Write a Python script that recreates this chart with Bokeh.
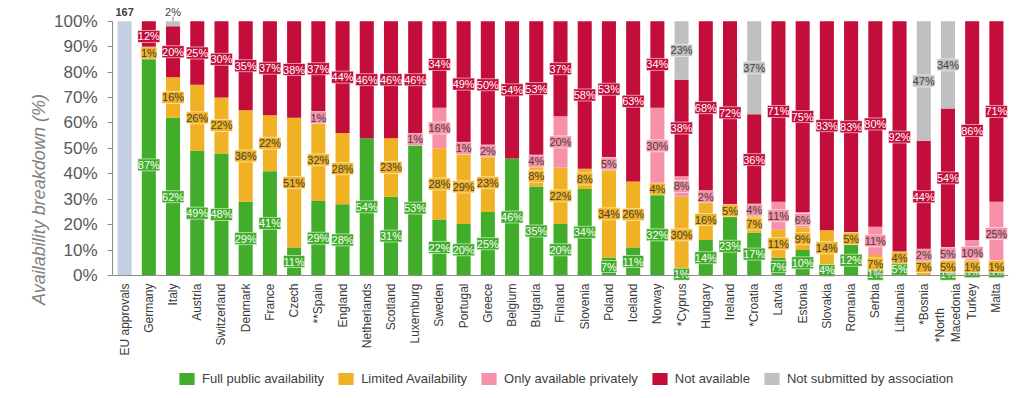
import math
from bokeh.plotting import figure
from bokeh.models import (ColumnDataSource, FactorRange, Range1d, LabelSet, Legend,
                          LegendItem, FixedTicker, Span, Title)
from bokeh.embed import file_html
from bokeh.resources import INLINE
from bokeh.core.properties import value

# ---------------- data ----------------
categories = ["EU approvals", "Germany", "Italy", "Austria", "Switzerland", "Denmark",
              "France", "Czech", "**Spain", "England", "Netherlands", "Scotland",
              "Luxemburg", "Sweden", "Portugal", "Greece", "Belgium", "Bulgaria",
              "Finland", "Slovenia", "Poland", "Iceland", "Norway", "*Cyprus",
              "Hungary", "Ireland", "*Croatia", "Latvia", "Estonia", "Slovakia",
              "Romania", "Serbia", "Lithuania", "*Bosnia", "*North\nMacedonia",
              "Turkey", "Malta"]

full_public   = [0, 87, 62, 49, 48, 29, 41, 11, 29, 28, 54, 31, 53, 22, 20, 25, 46, 35,
                 20, 34, 7, 11, 32, 1, 14, 23, 17, 7, 10, 4, 12, 1, 5, 0, 1, 3, 3]
limited       = [0, 1, 16, 26, 22, 36, 22, 51, 32, 28, 0, 23, 0, 28, 29, 23, 0, 8,
                 22, 8, 34, 26, 4, 30, 16, 5, 7, 11, 9, 14, 5, 7, 4, 7, 5, 1, 1]
private_only  = [0, 0, 0, 0, 0, 0, 0, 0, 1, 0, 0, 0, 1, 16, 1, 2, 0, 4,
                 20, 0, 5, 0, 30, 8, 2, 0, 4, 11, 6, 0, 0, 11, 0, 2, 5, 10, 25]
not_available = [0, 12, 20, 25, 30, 35, 37, 38, 37, 44, 46, 46, 46, 34, 49, 50, 54, 53,
                 37, 58, 53, 63, 34, 38, 68, 72, 36, 71, 75, 83, 83, 80, 92, 44, 54, 86, 71]
not_submitted = [0, 0, 2, 0, 0, 0, 0, 0, 0, 0, 0, 0, 0, 0, 0, 0, 0, 0,
                 0, 0, 0, 0, 0, 23, 0, 0, 37, 0, 0, 0, 0, 0, 0, 47, 34, 0, 0]
eu_share = [100]          # EU approvals bar spans the full height
eu_count = ["167"]        # number of EU approvals

y_ticks = list(range(0, 101, 10))
y_tick_labels = [f"{t}%" for t in y_ticks]

series_names = ["Full public availability", "Limited Availability",
                "Only available privately", "Not available", "Not submitted by association"]
series_vals = [full_public, limited, private_only, not_available, not_submitted]
colors = ["#41ad2a", "#f0b124", "#f691a9", "#c30d3b", "#c0c0c0"]
text_colors = ["white", "#404040", "#404040", "white", "#404040"]
eu_color = "#c5d0e2"

FONT = "Liberation Sans"
PX = 2.543  # pixels per percentage point on the y scale

# normalise each bar to 100 %
keys = ["g", "o", "p", "r", "s"]
data = {"x": categories}
totals = [sum(v[i] for v in series_vals) for i in range(len(categories))]
for k, vals in zip(keys, series_vals):
    data[k] = [(vals[i] / totals[i] * 100) if totals[i] else 0 for i in range(len(categories))]
src = ColumnDataSource(data)

FRAME_H = 394
y_top = 107.35
p = figure(x_range=FactorRange(factors=categories),
           y_range=Range1d(y_top - FRAME_H / PX, y_top),
           frame_width=896, frame_height=FRAME_H,
           min_border_left=112, min_border_right=8, min_border_top=2, min_border_bottom=0,
           output_backend="svg", toolbar_location=None)

renderers = p.vbar_stack(keys, x="x", width=0.58, source=src,
                         fill_color=colors, line_color=None)

p.vbar(x=categories[:1], top=eu_share, width=0.58, fill_color=eu_color, line_color=None)

# segment labels
for si, (k, vals) in enumerate(zip(keys, series_vals)):
    lx, ly, lt = [], [], []
    ax, ay, at = [], [], []
    for i, c in enumerate(categories):
        if vals[i] <= 0:
            continue
        base = sum(data[kk][i] for kk in keys[:si])
        if k == "s" and vals[i] < 5:
            ax.append(c); ay.append(103.6); at.append(f"{vals[i]}%")
            continue
        lx.append(c); ly.append(base + data[k][i] / 2); lt.append(f"{vals[i]}%")
    ls = LabelSet(x="x", y="y", text="t",
                  source=ColumnDataSource(dict(x=lx, y=ly, t=lt)),
                  text_align="center", text_baseline="middle",
                  text_font=value(FONT), text_font_size="11px",
                  text_color=text_colors[si],
                  background_fill_color=colors[si],
                  border_line_color="white", border_line_alpha=0.55)
    p.add_layout(ls)
    if ax:
        p.segment(x0=ax, y0=[100] * len(ax), x1=ax, y1=[101.8] * len(ax),
                  line_color="#808080", line_width=1)
        p.add_layout(LabelSet(x="x", y="y", text="t",
                              source=ColumnDataSource(dict(x=ax, y=ay, t=at)),
                              text_align="center", text_baseline="middle",
                              text_font=value(FONT), text_font_size="11px",
                              text_color="#404040"))

p.add_layout(LabelSet(x="x", y="y", text="t",
                      source=ColumnDataSource(dict(x=categories[:1], y=[103.6], t=eu_count)),
                      text_align="center", text_baseline="middle",
                      text_font=value(FONT), text_font_size="11px",
                      text_font_style="bold", text_color="#404040"))

# category labels (vertical, reading upwards, ending just under the baseline)
p.add_layout(LabelSet(x="x", y="y", text="t",
                      source=ColumnDataSource(dict(x=categories,
                                                   y=[-8 / PX] * len(categories),
                                                   t=categories)),
                      angle=math.pi / 2, text_align="right", text_baseline="middle",
                      text_font=value(FONT), text_font_size="12px",
                      text_line_height=1.1, text_color="#3a3a3a"))

# baseline (x axis line)
p.add_layout(Span(location=0, dimension="width", line_color="#8c8c8c", line_width=1))

# axes
p.xaxis.visible = False
p.xgrid.grid_line_color = None
p.ygrid.grid_line_color = None
p.outline_line_color = None

p.yaxis.ticker = FixedTicker(ticks=y_ticks)
p.yaxis.bounds = (0, 100)
p.yaxis.major_label_overrides = dict(zip(y_ticks, y_tick_labels))
p.yaxis.major_label_text_font = FONT
p.yaxis.major_label_text_font_size = "17px"
p.yaxis.major_label_text_color = "#595959"
p.yaxis.major_tick_in = 0
p.yaxis.major_tick_out = 5
p.yaxis.minor_tick_line_color = None
p.yaxis.axis_line_color = "#8c8c8c"
p.yaxis.major_tick_line_color = "#8c8c8c"
p.yaxis.major_label_standoff = 10

p.add_layout(Title(text="Availability breakdown (%)", align="center", offset=92,
                   text_font=FONT, text_font_style="italic", text_font_size="18px",
                   text_color="#808080", standoff=6), "left")

legend = Legend(items=[LegendItem(label=n, renderers=[r]) for n, r in zip(series_names, renderers)],
                orientation="horizontal", location=(65, 10),
                glyph_width=19, glyph_height=15, label_standoff=6, spacing=12,
                label_text_font=FONT, label_text_font_size="13px",
                label_text_color="#404040", padding=0, margin=0,
                border_line_color=None, background_fill_alpha=0)
p.add_layout(legend)

open("out.html", "w").write(file_html(p, INLINE))
